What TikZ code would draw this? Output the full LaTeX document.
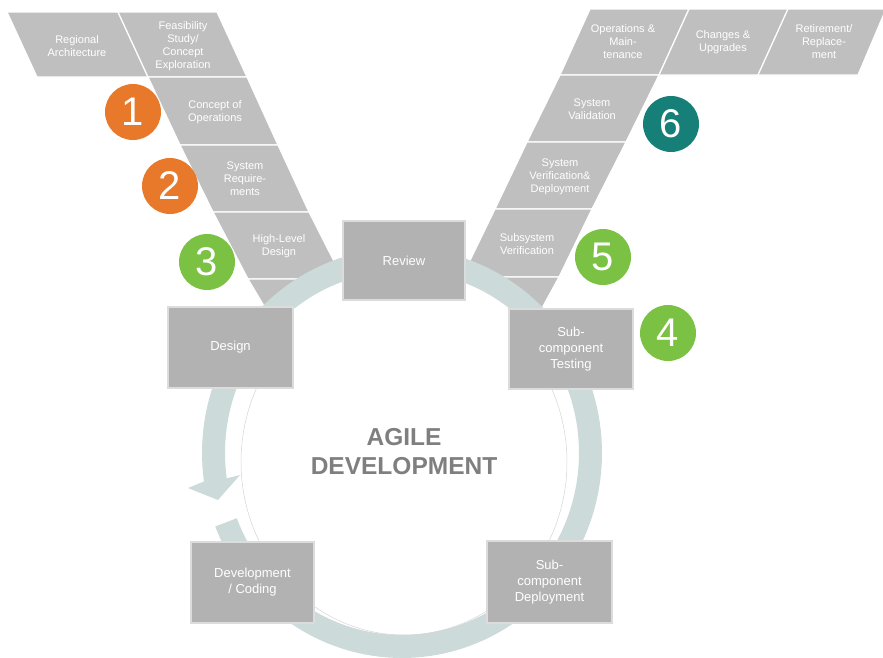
\documentclass[tikz,border=0pt]{standalone}
\usepackage{fontspec}
\setmainfont{Liberation Sans}
\definecolor{cellgray}{HTML}{BFBFBF}
\definecolor{boxgray}{HTML}{B2B2B2}
\definecolor{boxedge}{HTML}{DCDCDC}
\definecolor{ringcol}{HTML}{CCDADA}
\definecolor{orangec}{HTML}{E8792B}
\definecolor{greenc}{HTML}{7BC143}
\definecolor{tealc}{HTML}{168078}
\definecolor{agilec}{HTML}{7F7F7F}
\definecolor{discedge}{HTML}{D4D4D4}
\begin{document}
\begin{tikzpicture}[x=1pt,y=-1pt,
  cell/.style={fill=cellgray, draw=white, line width=1.2pt, line join=miter},
  celltext/.style={text=white, align=center, font=\fontsize{11}{13}\selectfont, inner sep=0pt},
  stagebox/.style={fill=boxgray, draw=boxedge, line width=1.6pt, text=white, align=center, font=\fontsize{13}{16}\selectfont, inner sep=0pt},
  numdot/.style={circle, minimum size=56pt, inner sep=0pt, text=white, font=\fontsize{40}{40}\selectfont},
]
\useasboundingbox (0,0) rectangle (883,657);

% ---------- left arm ----------
\path[cell] (7,12) -- (118,12) -- (148,77) -- (37,77) -- cycle;
\path[cell] (118,12) -- (217,12) -- (247,77) -- (148,77) -- cycle;
\path[cell] (148,77) -- (247,77) -- (278,145) -- (180,145) -- cycle;
\path[cell] (180,145) -- (278,145) -- (309,212) -- (213,212) -- cycle;
\path[cell] (213,212) -- (309,212) -- (343,279) -- (248,279) -- cycle;
\path[cell] (248,279) -- (343,279) -- (264,306) -- cycle;
\node[celltext] (regarch) at (77,46) {Regional\\Architecture};
\node[celltext] (feas) at (183,46) {Feasibility\\Study/\\Concept\\Exploration};
\node[celltext] (conops) at (215,112.5) {Concept of\\Operations};
\node[celltext] (sysreq) at (245,179) {System\\Require-\\ments};
\node[celltext] (hld) at (279,246) {High-Level\\Design};

% ---------- right arm ----------
\path[cell] (590,9) -- (689,9) -- (659,75) -- (560,75) -- cycle;
\path[cell] (689,9) -- (788,9) -- (758,75) -- (659,75) -- cycle;
\path[cell] (788,9) -- (886,9) -- (858,75) -- (758,75) -- cycle;
\path[cell] (560,75) -- (659,75) -- (626,142) -- (527,142) -- cycle;
\path[cell] (527,142) -- (626,142) -- (592,209) -- (495,209) -- cycle;
\path[cell] (495,209) -- (592,209) -- (559,277) -- (462,277) -- cycle;
\path[cell] (462,277) -- (559,277) -- (541,310) -- cycle;
\node[celltext] (opsmain) at (623,42) {Operations \&\\Main-\\tenance};
\node[celltext] (changes) at (723,42) {Changes \&\\Upgrades};
\node[celltext] (retire) at (824,42) {Retirement/\\Replace-\\ment};
\node[celltext] (sysval) at (592,109.5) {System\\Validation};
\node[celltext] (sysver) at (560,176.5) {System\\Verification\&\\Deployment};
\node[celltext] (subver) at (527,244) {Subsystem\\Verification};

% ---------- agile ring ----------
\fill[ringcol]
  plot[domain=172:519, samples=150] ({402+200*cos(\x)},{453+205*sin(\x)})
  -- plot[domain=519:172, samples=150] ({402+177*cos(\x)},{453+182*sin(\x)})
  -- (240,475) -- (218,500) -- (188,488) -- cycle;
\draw[discedge, line width=0.5pt] plot[domain=-25:205, samples=150] ({404+163*cos(\x)},{462+173*sin(\x)});

\node[text=agilec, align=center, font=\bfseries\fontsize{24.5}{29}\selectfont] (agile) at (404,452) {AGILE\\DEVELOPMENT};

% ---------- stage boxes ----------
\node[stagebox, minimum width=122pt, minimum height=79pt] (review) at (404,260.5) {Review};
\node[stagebox, minimum width=125pt, minimum height=81pt] (design) at (230.5,347.5) {Design};
\node[stagebox, minimum width=124pt, minimum height=80pt] (sctest) at (571,349) {Sub-\\component\\Testing};
\node[stagebox, minimum width=123pt, minimum height=81pt] (devcode) at (252.5,582.5) {Development\\/ Coding};
\node[stagebox, minimum width=125pt, minimum height=82pt] (scdeploy) at (549.5,582) {Sub-\\component\\Deployment};

% ---------- numbered dots ----------
\node[numdot, fill=orangec] (n1) at (133,112) {1};
\node[numdot, fill=orangec] (n2) at (170,186) {2};
\node[numdot, fill=greenc] (n3) at (207,262) {3};
\node[numdot, fill=greenc] (n4) at (668,333) {4};
\node[numdot, fill=greenc] (n5) at (603,257) {5};
\node[numdot, fill=tealc] (n6) at (671,124) {6};
\end{tikzpicture}
\end{document}
